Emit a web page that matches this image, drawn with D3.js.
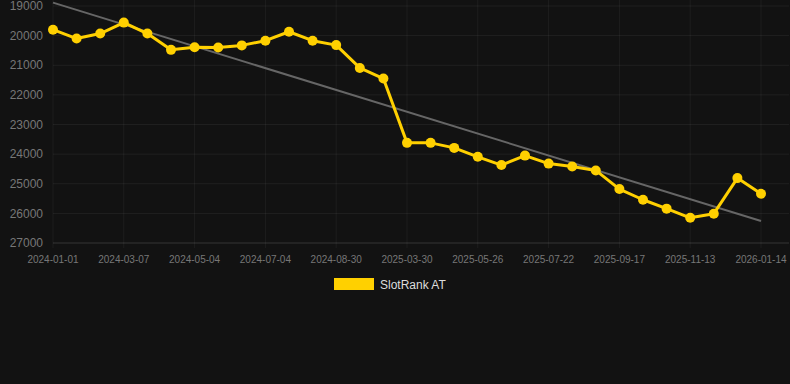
<!DOCTYPE html>
<html>
<head>
<meta charset="utf-8">
<script src="https://cdn.jsdelivr.net/npm/d3@7"></script>
<style>
html,body{margin:0;padding:0;background:#121212;}
svg{display:block;}
</style>
</head>
<body>
<svg id="c" width="790" height="384"></svg>
<script>
const dates = ["2024-01-01","2024-01-23","2024-02-14","2024-03-07","2024-03-26","2024-04-15","2024-05-04","2024-05-24","2024-06-13","2024-07-04","2024-07-23","2024-08-11","2024-08-30","2024-10-15","2025-02-10","2025-03-30","2025-04-18","2025-05-07","2025-05-26","2025-06-14","2025-07-03","2025-07-22","2025-08-10","2025-08-29","2025-09-17","2025-10-06","2025-10-25","2025-11-13","2025-12-02","2025-12-21","2026-01-14"];
const ranks = [19800,20100,19930,19560,19930,20480,20390,20400,20330,20170,19870,20170,20320,21090,21450,23620,23620,23790,24090,24370,24050,24320,24420,24550,25180,25540,25840,26150,26010,24810,25340];
const yTicks = [19000,20000,21000,22000,23000,24000,25000,26000,27000];
const seriesName = "SlotRank AT";

(function () {
const svg = d3.select("#c");
const pLeft = 53, pRight = 761, pTop = 6, pBottom = 243;
const x = d3.scalePoint().domain(dates).range([pLeft, pRight]);
const y = d3.scaleLinear().domain([19000, 27000]).range([pTop, pBottom]);

// grid
const g = svg.append("g");
g.selectAll("line.h").data(yTicks).enter().append("line")
  .attr("x1", pLeft).attr("x2", pRight + 28).attr("y1", d => y(d)).attr("y2", d => y(d))
  .attr("stroke", "rgba(255,255,255,0.06)").attr("stroke-width", 1);
const shown = dates.filter((d, i) => i % 3 === 0);
g.selectAll("line.v").data(shown).enter().append("line")
  .attr("x1", d => x(d)).attr("x2", d => x(d)).attr("y1", 0).attr("y2", pBottom + 5)
  .attr("stroke", "rgba(255,255,255,0.05)").attr("stroke-width", 1);
g.append("line").attr("x1", pLeft).attr("x2", pRight + 28).attr("y1", y(27000)).attr("y2", y(27000))
  .attr("stroke", "rgba(255,255,255,0.1)");

// y labels
svg.append("g").selectAll("text").data(yTicks).enter().append("text")
  .attr("x", 43).attr("y", d => y(d)).attr("dy", "0.35em").attr("text-anchor", "end")
  .attr("font-family", "Liberation Sans, Arial, sans-serif").attr("font-size", 12)
  .attr("fill", "#777").text(d => d);

// x labels
svg.append("g").selectAll("text").data(shown).enter().append("text")
  .attr("x", d => x(d)).attr("y", 259).attr("dy", "0.35em").attr("text-anchor", "middle")
  .attr("font-family", "Liberation Sans, Arial, sans-serif").attr("font-size", 10)
  .attr("fill", "#777").text(d => d);

// trend (least squares)
const n = ranks.length;
const idx = d3.range(n);
const mx = d3.mean(idx), my = d3.mean(ranks);
const slope = d3.sum(idx, i => (i - mx) * (ranks[i] - my)) / d3.sum(idx, i => (i - mx) ** 2);
const icpt = my - slope * mx;
svg.append("line")
  .attr("x1", x(dates[0])).attr("y1", y(icpt))
  .attr("x2", x(dates[n - 1])).attr("y2", y(icpt + slope * (n - 1)))
  .attr("stroke", "#666").attr("stroke-width", 2);

// series
const line = d3.line().x((d, i) => x(dates[i])).y(d => y(d));
svg.append("path").datum(ranks).attr("d", line).attr("fill", "none")
  .attr("stroke", "#FFD000").attr("stroke-width", 3).attr("stroke-linejoin", "round");
svg.append("g").selectAll("circle").data(ranks).enter().append("circle")
  .attr("cx", (d, i) => x(dates[i])).attr("cy", d => y(d)).attr("r", 5)
  .attr("fill", "#FFD000");

// legend
const lg = svg.append("g");
lg.append("rect").attr("x", 334).attr("y", 278).attr("width", 40).attr("height", 12).attr("fill", "#FFD000");
lg.append("text").attr("x", 380).attr("y", 285).attr("dy", "0.35em")
  .attr("font-family", "Liberation Sans, Arial, sans-serif").attr("font-size", 12)
  .attr("fill", "#ddd").text(seriesName);
})();
</script>
</body>
</html>
